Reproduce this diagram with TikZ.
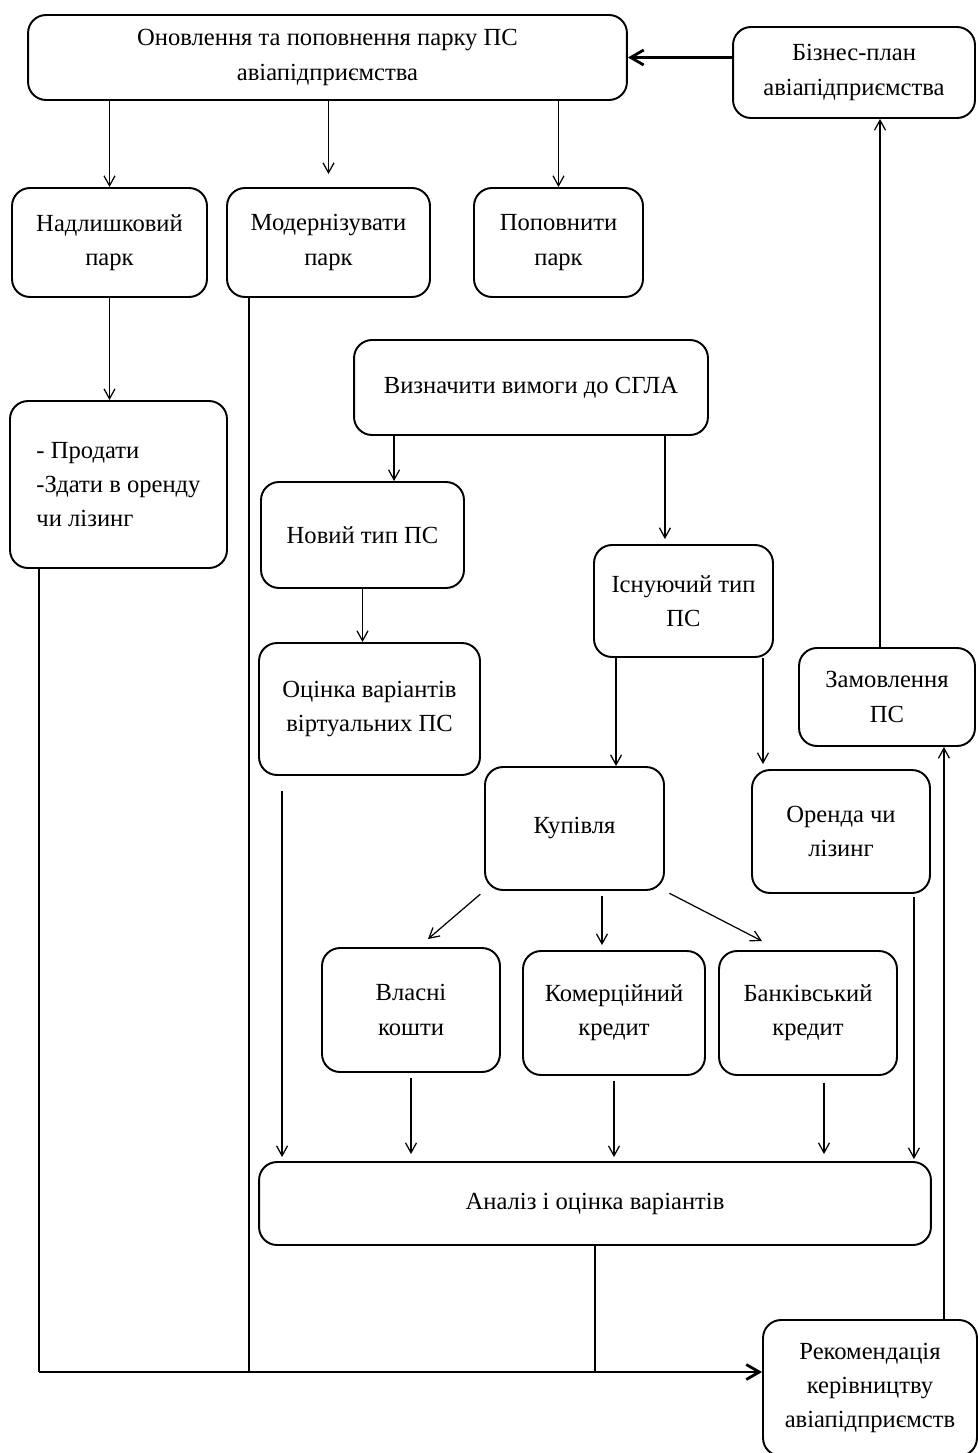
\documentclass[tikz,border=0pt]{standalone}
\usepackage{fontspec}
\setmainfont{Liberation Serif}
\usetikzlibrary{arrows.meta}

\tikzset{
  blk/.style={draw,line width=1.1pt,rounded corners=0.36cm,align=center,
    font=\fontsize{14}{19.5}\selectfont},
  arr/.style={line width=0.7pt,-{Straight Barb[length=2mm,width=2.2mm]}},
  barr/.style={line width=1.6pt,-{Straight Barb[length=2.6mm,width=3mm]}},
  ln/.style={line width=0.7pt}
}

\begin{document}
\begin{tikzpicture}[x=0.02cm,y=-0.02cm]
\useasboundingbox (0,0) rectangle (977,1453);
% boxes
\node[blk,minimum width=11.98cm,minimum height=1.7cm] (renew) at (327.5,57.5)
  {Оновлення та поповнення парку ПС\\авіапідприємства};
\node[blk,minimum width=4.84cm,minimum height=1.82cm] (bplan) at (854,72.5)
  {Бізнес-план\\авіапідприємства};
\node[blk,minimum width=3.9cm,minimum height=2.18cm] (surplus) at (109.5,242.5)
  {Надлишковий\\парк};
\node[blk,minimum width=4.06cm,minimum height=2.18cm] (modern) at (328.5,242.5)
  {Модернізувати\\парк};
\node[blk,minimum width=3.38cm,minimum height=2.18cm] (replen) at (558.5,242.5)
  {Поповнити\\парк};
\node[blk,align=left,minimum width=4.34cm,minimum height=3.34cm] (sell) at (118.5,484.5)
  {- Продати\\-Здати в оренду\\чи лізинг};
\node[blk,minimum width=7.08cm,minimum height=1.9cm] (req) at (531,387.5)
  {Визначити вимоги до СГЛА};
\node[blk,minimum width=4.06cm,minimum height=2.12cm] (newtype) at (362.5,535)
  {Новий тип ПС};
\node[blk,minimum width=3.58cm,minimum height=2.24cm] (exist) at (683.5,601)
  {Існуючий тип\\ПС};
\node[blk,minimum width=3.52cm,minimum height=1.96cm] (order) at (887,697)
  {Замовлення\\ПС};
\node[blk,minimum width=4.42cm,minimum height=2.64cm] (virt) at (369.5,709)
  {Оцінка варіантів\\віртуальних ПС};
\node[blk,minimum width=3.58cm,minimum height=2.46cm] (buy) at (574.5,828.5)
  {Купівля};
\node[blk,minimum width=3.56cm,minimum height=2.46cm] (lease) at (841,831.5)
  {Оренда чи\\лізинг};
\node[blk,minimum width=3.56cm,minimum height=2.48cm] (own) at (411,1010)
  {Власні\\кошти};
\node[blk,minimum width=3.64cm,minimum height=2.48cm] (comm) at (614,1013)
  {Комерційний\\кредит};
\node[blk,minimum width=3.56cm,minimum height=2.48cm] (bank) at (808,1013)
  {Банківський\\кредит};
\node[blk,minimum width=13.44cm,minimum height=1.66cm] (anal) at (595,1203.5)
  {Аналіз і оцінка варіантів};
\node[blk,minimum width=4.28cm,minimum height=2.72cm] (rec) at (870,1388)
  {Рекомендація\\керівництву\\авіапідприємств};
% upper part
\draw[barr] (renew.east -| bplan.west) -- (renew.east);
\draw[arr] (renew.south -| surplus.north) -- (surplus.north);
\draw[arr,shorten >=0.26cm] (renew.south -| modern.north) -- (modern.north);
\draw[arr] (renew.south -| replen.north) -- (replen.north);
\draw[arr] (surplus.south) -- (surplus.south |- sell.north);
% bottom bus to the recommendation
\coordinate (bus) at ([yshift=0.32cm]rec.west);
\coordinate (sellend) at ([xshift=0.6cm]sell.south west);
\coordinate (modend) at ([xshift=0.46cm]modern.south west);
\draw[ln] (sellend) -- (sellend |- bus);
\draw[barr] (sellend |- bus) -- (bus);
\draw[ln] (modend) -- (modend |- bus);
\draw[ln] (anal.south) -- (anal.south |- bus);
% requirements branch
\coordinate (reqA) at ([xshift=0.82cm]req.south west);
\coordinate (reqB) at ([xshift=-0.88cm]req.south east);
\draw[arr] (reqA) -- (reqA |- newtype.north);
\draw[arr,shorten >=0.1cm] (reqB) -- (reqB |- exist.north);
\draw[arr] (newtype.south) -- (newtype.south |- virt.north);
\coordinate (virtA) at ([xshift=0.48cm]virt.south west);
\draw[arr,shorten <=0.3cm,shorten >=0.08cm] (virtA) -- (virtA |- anal.north);
\coordinate (existA) at ([xshift=0.46cm]exist.south west);
\coordinate (existB) at ([xshift=-0.22cm]exist.south east);
\draw[arr] (existA) -- (existA |- buy.north);
\draw[arr,shorten >=0.1cm] (existB) -- (existB |- lease.north);
% purchase options
\draw[arr,shorten <=0.1cm] (buy.south west) -- ([xshift=0.34cm,yshift=0.16cm]own.north);
\coordinate (buyA) at ([xshift=0.55cm]buy.south);
\draw[arr,shorten <=0.1cm,shorten >=0.1cm] (buyA) -- (buyA |- comm.north);
\draw[arr,shorten <=0.1cm] (buy.south east) -- ([xshift=-0.92cm,yshift=0.18cm]bank.north);
% into the analysis
\draw[arr,shorten <=0.1cm,shorten >=0.14cm] (own.south) -- (own.south |- anal.north);
\draw[arr,shorten <=0.1cm,shorten >=0.08cm] (comm.south) -- (comm.south |- anal.north);
\coordinate (bankA) at ([xshift=0.32cm]bank.south);
\draw[arr,shorten <=0.14cm,shorten >=0.14cm] (bankA) -- (bankA |- anal.north);
\coordinate (leaseA) at ([xshift=-0.34cm]lease.south east);
\draw[arr,shorten <=0.06cm,shorten >=0.04cm] (leaseA) -- (leaseA |- anal.north);
% back up to the business plan
\coordinate (recA) at ([xshift=-0.68cm]rec.north east);
\draw[arr] (recA) -- (recA |- order.south);
\coordinate (orderA) at ([xshift=-0.14cm]order.north);
\draw[arr] (orderA) -- (orderA |- bplan.south);
\end{tikzpicture}
\end{document}
